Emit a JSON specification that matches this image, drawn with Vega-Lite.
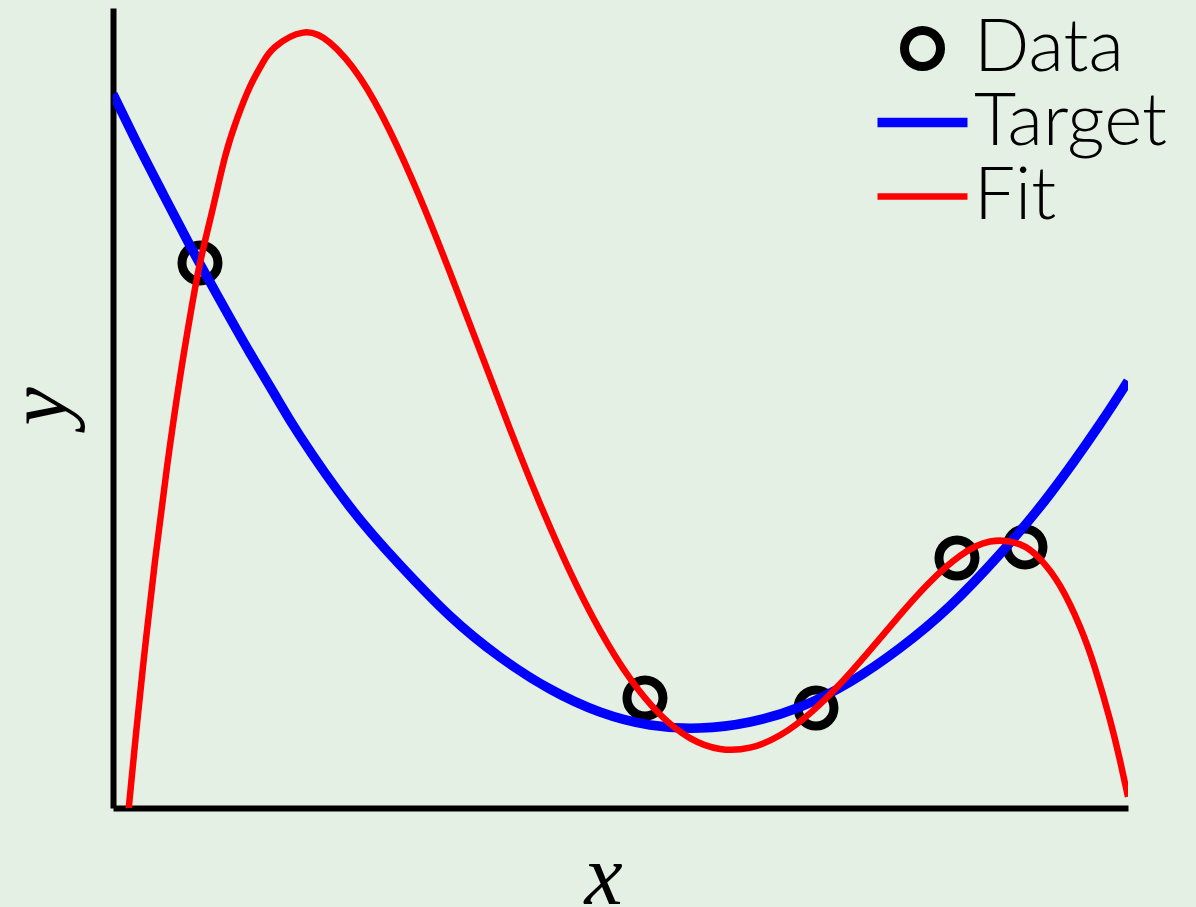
{
  "$schema": "https://vega.github.io/schema/vega-lite/v6.json",
  "width": 1015,
  "height": 800,
  "autosize": {"type": "none"},
  "padding": {"left": 113, "top": 8, "right": 68, "bottom": 99},
  "background": "#e5f0e5",
  "config": {
    "view": {"stroke": null},
    "axis": {"grid": false, "ticks": false, "labels": false, "domainColor": "black", "domainWidth": 6, "titleColor": "black", "titleFont": "Liberation Serif", "titleFontStyle": "italic", "titleFontWeight": "normal", "titleFontSize": 86}
  },
  "datasets": {
    "data": [
      {"x": 0.0857, "y": 0.6813, "series": "Data"},
      {"x": 0.5241, "y": 0.1375, "series": "Data"},
      {"x": 0.6926, "y": 0.125, "series": "Data"},
      {"x": 0.8315, "y": 0.3125, "series": "Data"},
      {"x": 0.8985, "y": 0.3263, "series": "Data"}
    ],
    "target": [
      {"x": 0.0, "y": 0.8925, "series": "Target"},
      {"x": 0.02167, "y": 0.83625, "series": "Target"},
      {"x": 0.04631, "y": 0.775, "series": "Target"},
      {"x": 0.07094, "y": 0.715, "series": "Target"},
      {"x": 0.08571, "y": 0.68, "series": "Target"},
      {"x": 0.11034, "y": 0.62375, "series": "Target"},
      {"x": 0.13498, "y": 0.56875, "series": "Target"},
      {"x": 0.15961, "y": 0.51625, "series": "Target"},
      {"x": 0.18424, "y": 0.465, "series": "Target"},
      {"x": 0.23350, "y": 0.37625, "series": "Target"},
      {"x": 0.28276, "y": 0.30375, "series": "Target"},
      {"x": 0.33202, "y": 0.24, "series": "Target"},
      {"x": 0.38128, "y": 0.18875, "series": "Target"},
      {"x": 0.43054, "y": 0.14875, "series": "Target"},
      {"x": 0.47980, "y": 0.12, "series": "Target"},
      {"x": 0.52906, "y": 0.10375, "series": "Target"},
      {"x": 0.57833, "y": 0.1, "series": "Target"},
      {"x": 0.62759, "y": 0.1075, "series": "Target"},
      {"x": 0.67685, "y": 0.12625, "series": "Target"},
      {"x": 0.72611, "y": 0.1575, "series": "Target"},
      {"x": 0.77537, "y": 0.2, "series": "Target"},
      {"x": 0.82463, "y": 0.2525, "series": "Target"},
      {"x": 0.87389, "y": 0.3175, "series": "Target"},
      {"x": 0.92315, "y": 0.3925, "series": "Target"},
      {"x": 0.97241, "y": 0.48, "series": "Target"},
      {"x": 1.0, "y": 0.53375, "series": "Target"}
    ],
    "fit": [
      {"x": 0.01478, "y": -0.0097, "series": "Fit"},
      {"x": 0.02266, "y": 0.09275, "series": "Fit"},
      {"x": 0.03153, "y": 0.1997, "series": "Fit"},
      {"x": 0.04138, "y": 0.3086, "series": "Fit"},
      {"x": 0.05320, "y": 0.4262, "series": "Fit"},
      {"x": 0.06601, "y": 0.5381, "series": "Fit"},
      {"x": 0.07586, "y": 0.6139, "series": "Fit"},
      {"x": 0.08571, "y": 0.6812, "series": "Fit"},
      {"x": 0.09852, "y": 0.7504, "series": "Fit"},
      {"x": 0.11034, "y": 0.8137, "series": "Fit"},
      {"x": 0.12217, "y": 0.8613, "series": "Fit"},
      {"x": 0.13498, "y": 0.9018, "series": "Fit"},
      {"x": 0.14680, "y": 0.9299, "series": "Fit"},
      {"x": 0.15961, "y": 0.9512, "series": "Fit"},
      {"x": 0.18719, "y": 0.9692, "series": "Fit"},
      {"x": 0.21379, "y": 0.9565, "series": "Fit"},
      {"x": 0.24335, "y": 0.913, "series": "Fit"},
      {"x": 0.27291, "y": 0.846, "series": "Fit"},
      {"x": 0.30246, "y": 0.7627, "series": "Fit"},
      {"x": 0.33202, "y": 0.6694, "series": "Fit"},
      {"x": 0.36158, "y": 0.5718, "series": "Fit"},
      {"x": 0.39113, "y": 0.4737, "series": "Fit"},
      {"x": 0.42069, "y": 0.3804, "series": "Fit"},
      {"x": 0.45025, "y": 0.2956, "series": "Fit"},
      {"x": 0.47980, "y": 0.2221, "series": "Fit"},
      {"x": 0.50936, "y": 0.162, "series": "Fit"},
      {"x": 0.53892, "y": 0.1169, "series": "Fit"},
      {"x": 0.56847, "y": 0.0874, "series": "Fit"},
      {"x": 0.59803, "y": 0.0738, "series": "Fit"},
      {"x": 0.62759, "y": 0.0754, "series": "Fit"},
      {"x": 0.65714, "y": 0.0909, "series": "Fit"},
      {"x": 0.68670, "y": 0.1183, "series": "Fit"},
      {"x": 0.71626, "y": 0.1549, "series": "Fit"},
      {"x": 0.74581, "y": 0.1973, "series": "Fit"},
      {"x": 0.77537, "y": 0.2415, "series": "Fit"},
      {"x": 0.80493, "y": 0.2826, "series": "Fit"},
      {"x": 0.83448, "y": 0.3152, "series": "Fit"},
      {"x": 0.86404, "y": 0.3331, "series": "Fit"},
      {"x": 0.89360, "y": 0.3295, "series": "Fit"},
      {"x": 0.91330, "y": 0.3114, "series": "Fit"},
      {"x": 0.93300, "y": 0.2779, "series": "Fit"},
      {"x": 0.95271, "y": 0.2266, "series": "Fit"},
      {"x": 0.96749, "y": 0.1748, "series": "Fit"},
      {"x": 0.98227, "y": 0.1102, "series": "Fit"},
      {"x": 0.99212, "y": 0.0594, "series": "Fit"},
      {"x": 1.0, "y": 0.0141, "series": "Fit"}
    ]
  },
  "encoding": {
    "x": {"field": "x", "type": "quantitative", "scale": {"domain": [0, 1], "nice": false, "zero": false}, "axis": {"title": "x", "titleX": 490, "titleY": 95, "titleBaseline": "alphabetic", "titleAlign": "center"}},
    "y": {"field": "y", "type": "quantitative", "scale": {"domain": [0, 1], "nice": false, "zero": false}, "axis": {"title": "y", "titleX": -48, "titleY": 398, "titleBaseline": "alphabetic", "titleAlign": "center", "titleAngle": -90}},
    "color": {
      "field": "series", "type": "nominal",
      "scale": {"domain": ["Data", "Target", "Fit"], "range": ["#000000", "#0000ff", "#ff0000"]},
      "legend": {
        "title": null,
        "orient": "none",
        "legendX": 773,
        "legendY": 4,
        "symbolSize": 1296,
        "labelFont": "Lato",
        "labelFontWeight": 300,
        "labelFontSize": 73,
        "labelColor": "black",
        "labelOffset": 15,
        "labelLimit": 0,
        "rowPadding": 0,
        "padding": 0,
        "encode": {
          "symbols": {
            "update": {
              "shape": {"signal": "datum.value === 'Data' ? 'circle' : 'stroke'"},
              "size": {"signal": "datum.value === 'Data' ? 1296 : 8100"},
              "strokeWidth": {"signal": "datum.value === 'Data' ? 9 : (datum.value === 'Target' ? 9.5 : 6.5)"},
              "stroke": {"signal": "datum.value === 'Data' ? '#000000' : (datum.value === 'Target' ? '#0000ff' : '#ff0000')"},
              "fill": {"value": "transparent"},
              "opacity": {"value": 1}
            }
          }
        }
      }
    }
  },
  "layer": [
    {"data": {"name": "data"}, "mark": {"type": "point", "filled": false, "shape": "circle", "size": 1296, "strokeWidth": 9, "opacity": 1}},
    {"data": {"name": "target"}, "mark": {"type": "line", "strokeWidth": 9.5, "interpolate": "natural", "clip": true}},
    {"data": {"name": "fit"}, "mark": {"type": "line", "strokeWidth": 6.5, "interpolate": "natural", "clip": true}}
  ]
}
